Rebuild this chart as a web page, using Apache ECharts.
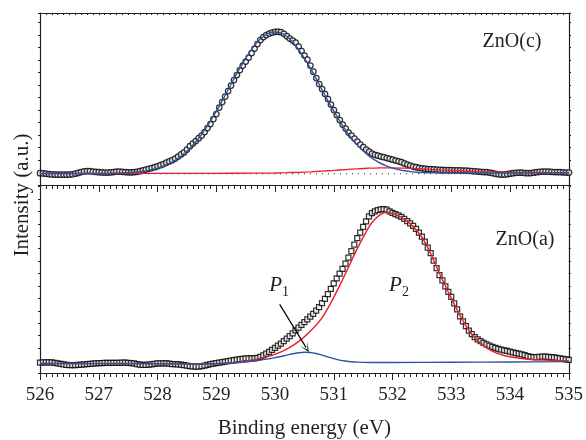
<!DOCTYPE html>
<html>
<head>
<meta charset="utf-8">
<script src="https://cdn.jsdelivr.net/npm/echarts@6.0.0/dist/echarts.min.js"></script>
<style>
  html, body { margin: 0; padding: 0; background: #fff; }
  #chart { width: 586px; height: 440px; }
</style>
</head>
<body>
<div id="chart"></div>
<script>
// O 1s XPS spectra of two ZnO films: measured points plus the fitted components.
// Measured spectra are sampled every 0.05 eV from 526 eV to 535 eV.
const energyStart = 526;
const energyStep = 0.05;

// ZnO(c): measured intensity (a.u.)
const topIntensity = [
  11.8, 11.6, 11.3, 10.9, 10.6, 10.4, 10.3, 10.3, 10.4, 10.3, 10.4, 10.7, 11.3, 12.1, 13.0, 13.6, 14.0, 13.9, 13.5, 13.1,
  12.8, 12.6, 12.5, 12.4, 12.6, 13.0, 13.3, 13.4, 13.2, 12.9, 12.7, 12.6, 12.8, 13.2, 13.8, 14.6, 15.4, 16.2, 17.0, 17.8,
  18.7, 19.8, 21.0, 22.3, 23.6, 24.8, 26.5, 28.5, 30.6, 32.6, 35.5, 38.8, 41.5, 44.0, 46.8, 49.5, 53.0, 57.0, 61.0, 66.0,
  71.0, 77.5, 83.0, 88.5, 94.0, 99.5, 105.0, 110.0, 115.0, 119.5, 123.5, 127.5, 132.0, 136.5, 141.0, 145.0, 148.0, 150.0, 151.5, 152.5,
  153.2, 153.3, 152.8, 151.2, 148.8, 146.5, 144.5, 142.3, 138.5, 134.0, 129.5, 125.5, 119.5, 113.3, 107.0, 101.0, 96.0, 91.0, 86.0, 80.5,
  75.0, 70.0, 65.0, 60.5, 56.5, 52.5, 49.5, 46.5, 43.5, 40.5, 38.0, 35.5, 33.3, 31.5, 30.2, 29.3, 28.5, 27.8, 27.0, 26.2,
  25.3, 24.5, 23.7, 22.8, 21.6, 20.5, 19.4, 18.5, 17.8, 17.2, 16.7, 16.3, 16.0, 15.8, 15.6, 15.4, 15.2, 15.1, 15.0, 14.9,
  14.8, 14.7, 14.7, 14.6, 14.5, 14.4, 14.2, 14.0, 13.7, 13.4, 13.2, 13.0, 12.8, 12.4, 11.8, 11.2, 10.7, 10.5, 10.5, 10.8,
  11.3, 11.8, 12.2, 12.4, 12.3, 12.0, 11.8, 11.9, 12.3, 12.8, 13.2, 13.4, 13.4, 13.3, 13.2, 13.0, 12.9, 12.8, 12.7, 12.5,
  12.4
];

// ZnO(a): measured intensity (a.u.)
const bottomIntensity = [
  10.5, 10.8, 10.8, 10.7, 10.6, 10.3, 9.8, 9.2, 8.6, 8.2, 8.0, 7.9, 8.0, 8.1, 8.3, 8.6, 8.9, 9.2, 9.5, 9.7,
  9.9, 10.0, 10.1, 10.1, 10.1, 10.2, 10.2, 10.3, 10.4, 10.4, 10.3, 10.0, 9.6, 9.0, 8.5, 8.2, 8.1, 8.3, 8.7, 9.2,
  9.6, 9.8, 9.8, 9.6, 9.3, 9.0, 8.8, 8.6, 8.3, 7.9, 7.4, 7.0, 6.6, 6.4, 6.4, 6.8, 7.4, 8.1, 8.8, 9.4,
  9.9, 10.4, 10.9, 11.4, 11.9, 12.4, 12.9, 13.4, 13.9, 14.3, 14.7, 14.8, 14.7, 14.8, 15.3, 16.3, 17.8, 19.5, 21.3, 23.2,
  25.3, 27.4, 29.6, 32.0, 34.5, 37.0, 39.8, 42.8, 45.7, 48.5, 51.2, 53.8, 56.6, 59.5, 62.8, 66.3, 70.2, 74.5, 79.3, 84.5,
  90.0, 95.2, 100.0, 104.8, 110.0, 116.0, 122.5, 129.0, 135.5, 141.0, 147.0, 152.5, 157.5, 160.8, 162.5, 163.8, 164.6, 164.8, 164.3, 162.5,
  161.0, 159.7, 158.5, 157.0, 155.0, 152.8, 150.5, 148.0, 145.0, 141.0, 137.0, 132.0, 126.0, 120.5, 113.0, 105.5, 98.5, 93.0, 87.0, 81.5,
  76.5, 70.0, 64.0, 57.0, 52.0, 47.0, 42.5, 39.0, 36.0, 33.8, 32.0, 30.3, 28.8, 27.5, 26.2, 25.2, 24.3, 23.5, 22.8, 22.2,
  21.5, 20.8, 20.1, 19.4, 18.7, 17.9, 17.0, 16.3, 15.9, 15.9, 16.2, 16.5, 16.5, 16.3, 16.0, 15.6, 15.2, 14.8, 14.3, 13.8,
  13.3
];

// ZnO(c) fitted components: [binding energy (eV), intensity]
const topFitMain = [
  [526.0, 11.5], [527.0, 11.5], [527.2, 11.7], [527.4, 12.1], [527.5, 12.3], [527.6, 12.7], [527.7, 13.3],
  [527.8, 14.1], [527.9, 15.3], [528.0, 16.8], [528.1, 18.8], [528.2, 21.4], [528.3, 24.7], [528.4, 28.8],
  [528.5, 33.8], [528.6, 39.8], [528.7, 46.7], [528.8, 54.8], [528.9, 63.9], [529.0, 73.8], [529.1, 84.2],
  [529.2, 95.1], [529.3, 106.2], [529.4, 116.8], [529.5, 126.7], [529.6, 135.6], [529.7, 142.9], [529.8, 148.5],
  [529.9, 151.9], [530.0, 153.0], [530.1, 151.9], [530.2, 148.5], [530.3, 142.9], [530.4, 135.6], [530.5, 126.7],
  [530.6, 116.8], [530.7, 106.2], [530.8, 95.1], [530.9, 84.2], [531.0, 73.8], [531.1, 63.9], [531.2, 54.9],
  [531.3, 46.8], [531.4, 39.9], [531.5, 33.9], [531.6, 28.9], [531.7, 24.8], [531.8, 21.5], [531.9, 18.9],
  [532.0, 16.9], [532.1, 15.4], [532.2, 14.2], [532.3, 13.4], [532.4, 12.8], [532.5, 12.4], [532.6, 12.2],
  [532.8, 12.0], [533.0, 11.9], [534.0, 12.0], [535.0, 12.2]
];
const topFitMinor = [
  [526.0, 11.4], [527.0, 11.5], [528.0, 11.6], [529.0, 11.7], [529.6, 11.8], [529.8, 11.9], [530.0, 12.0],
  [530.2, 12.3], [530.4, 12.7], [530.6, 13.2], [530.8, 13.9], [531.0, 14.6], [531.2, 15.4], [531.4, 16.2],
  [531.6, 16.8], [531.8, 17.2], [532.0, 17.2], [532.2, 16.9], [532.4, 16.4], [532.6, 15.8], [532.8, 15.1],
  [533.0, 14.5], [533.2, 14.0], [533.4, 13.5], [533.6, 13.2], [533.8, 12.9], [534.0, 12.7], [534.5, 12.5],
  [535.0, 12.3]
];
const topBaseline = 11.2;

// ZnO(a) fitted components: P1 (low-energy) and P2 (high-energy)
const bottomFitP1 = [
  [526.0, 9.5], [528.0, 9.3], [528.6, 9.0], [529.0, 9.3], [529.2, 9.8], [529.4, 10.6], [529.6, 11.8],
  [529.8, 13.4], [530.0, 15.5], [530.2, 18.0], [530.3, 19.3], [530.4, 20.3], [530.5, 20.8], [530.6, 20.6],
  [530.7, 19.6], [530.8, 18.0], [530.9, 16.2], [531.0, 14.5], [531.1, 13.0], [531.2, 12.0], [531.3, 11.3],
  [531.4, 10.9], [531.6, 10.6], [532.0, 10.6], [533.0, 10.8], [534.0, 11.1], [535.0, 11.4]
];
const bottomFitP2 = [
  [526.0, 9.5], [527.0, 9.5], [528.0, 9.4], [528.6, 9.1], [529.0, 9.3], [529.2, 10.0], [529.4, 11.2],
  [529.6, 12.9], [529.8, 15.4], [530.0, 18.8], [530.2, 24.0], [530.4, 31.5], [530.6, 42.0], [530.8, 55.5],
  [531.0, 76.0], [531.2, 100.0], [531.4, 125.0], [531.6, 147.0], [531.7, 154.5], [531.8, 159.5], [531.9, 161.5],
  [532.0, 160.5], [532.1, 158.0], [532.2, 154.5], [532.3, 150.0], [532.4, 144.0], [532.5, 136.5], [532.6, 126.0],
  [532.7, 113.5], [532.8, 100.0], [532.9, 87.5], [533.0, 75.5], [533.1, 63.5], [533.2, 52.5], [533.3, 43.0],
  [533.4, 35.5], [533.5, 29.8], [533.6, 25.5], [533.7, 22.0], [533.8, 19.5], [533.9, 17.6], [534.0, 16.3],
  [534.2, 14.6], [534.4, 13.6], [534.6, 13.0], [534.8, 12.6], [535.0, 12.3]
];

// Peak labels and the arrow pointing at the P1 component
const peakLabels = [
  { name: '1', coord: [530.07, 86] },
  { name: '2', coord: [532.11, 86] }
];
const arrowFrom = [530.08, 69];
const arrowTo = [530.53, 25.5];

const xTicks = { min: 526, max: 535, interval: 1 };

const FONT = '"Liberation Serif", "Times New Roman", serif';
const INK = '#231f20';
const BLUE = '#2f52a2';
const RED = '#ec1c24';

const toPoints = vals => vals.map((v, i) => [+(energyStart + i * energyStep).toFixed(2), v]);

const axisLine = { show: true, onZero: false, lineStyle: { color: INK, width: 1.2 } };

function xAxisFor(gridIndex, position, extra) {
  return Object.assign({
    type: 'value', gridIndex, position,
    min: xTicks.min, max: xTicks.max, interval: xTicks.interval,
    axisLine,
    axisTick: { show: true, inside: false, length: 7, lineStyle: { color: INK, width: 1 } },
    minorTick: { show: true, splitNumber: 10, length: 4, lineStyle: { color: INK, width: 1 } },
    axisLabel: { show: false },
    splitLine: { show: false },
    minorSplitLine: { show: false }
  }, extra || {});
}

function yAxisFor(gridIndex, position, max) {
  return {
    type: 'value', gridIndex, position,
    min: 0, max, interval: 12.5,
    axisLine,
    axisTick: { show: true, inside: false, length: 2, lineStyle: { color: INK, width: 1 } },
    axisLabel: { show: false },
    splitLine: { show: false }
  };
}

const markerStyle = { color: '#fff', borderColor: '#000', borderWidth: 1.25 };

const chart = echarts.init(document.getElementById('chart'), null, { renderer: 'canvas' });

chart.setOption({
  animation: false,
  backgroundColor: '#fff',
  grid: [
    { left: 40, right: 17, top: 13, height: 172 },
    { left: 40, right: 17, top: 185, height: 189 }
  ],
  xAxis: [
    xAxisFor(0, 'bottom'),
    xAxisFor(0, 'top', {
      axisTick: { show: true, inside: true, length: 2, lineStyle: { color: INK, width: 1 } },
      minorTick: { show: true, splitNumber: 10, length: 2, lineStyle: { color: INK, width: 1 } }
    }),
    xAxisFor(1, 'bottom', {
      axisLabel: { show: true, margin: 13, color: INK, fontFamily: FONT, fontSize: 19 },
      name: 'Binding energy (eV)',
      nameLocation: 'middle',
      nameGap: 45,
      nameTextStyle: { color: INK, fontFamily: FONT, fontSize: 21 }
    }),
    xAxisFor(1, 'top', { axisTick: { show: false }, minorTick: { show: false } })
  ],
  yAxis: [
    yAxisFor(0, 'left', 172),
    yAxisFor(0, 'right', 172),
    yAxisFor(1, 'left', 189),
    yAxisFor(1, 'right', 189)
  ],
  graphic: [
    {
      type: 'text', x: 22, y: 195, rotation: Math.PI / 2, silent: true,
      style: { text: 'Intensity (a.u.)', fill: INK, fontFamily: FONT, fontSize: 21, align: 'center', verticalAlign: 'middle' }
    },
    {
      type: 'text', x: 512, y: 42, silent: true,
      style: { text: 'ZnO(c)', fill: INK, fontFamily: FONT, fontSize: 20, align: 'center', verticalAlign: 'middle' }
    },
    {
      type: 'text', x: 525, y: 240, silent: true,
      style: { text: 'ZnO(a)', fill: INK, fontFamily: FONT, fontSize: 20, align: 'center', verticalAlign: 'middle' }
    }
  ],
  series: [
    {
      name: 'ZnO(c) data', type: 'scatter', xAxisIndex: 0, yAxisIndex: 0, silent: true,
      data: toPoints(topIntensity), symbol: 'circle', symbolSize: 5.5,
      itemStyle: markerStyle
    },
    {
      name: 'ZnO(c) baseline', type: 'line', xAxisIndex: 0, yAxisIndex: 0, silent: true,
      data: [[xTicks.min, topBaseline], [xTicks.max, topBaseline]], symbol: 'none',
      lineStyle: { color: INK, width: 1, type: [1, 5] }
    },
    {
      name: 'ZnO(c) minor', type: 'line', xAxisIndex: 0, yAxisIndex: 0, silent: true,
      data: topFitMinor, symbol: 'none', smooth: 0.3,
      lineStyle: { color: RED, width: 1.3 }
    },
    {
      name: 'ZnO(c) main', type: 'line', xAxisIndex: 0, yAxisIndex: 0, silent: true,
      data: topFitMain, symbol: 'none', smooth: 0.3,
      lineStyle: { color: BLUE, width: 1.4 }
    },
    {
      name: 'ZnO(a) data', type: 'scatter', xAxisIndex: 2, yAxisIndex: 2, silent: true,
      data: toPoints(bottomIntensity), symbol: 'rect', symbolSize: 5,
      itemStyle: markerStyle
    },
    {
      name: 'P2', type: 'line', xAxisIndex: 2, yAxisIndex: 2, silent: true,
      data: bottomFitP2, symbol: 'none', smooth: 0.3,
      lineStyle: { color: RED, width: 1.4 }
    },
    {
      name: 'P1', type: 'line', xAxisIndex: 2, yAxisIndex: 2, silent: true,
      data: bottomFitP1, symbol: 'none', smooth: 0.3,
      lineStyle: { color: BLUE, width: 1.4 },
      markLine: {
        silent: true,
        symbol: ['none', 'path://M0,10 L5,0 L10,10 L5,2.5 Z'],
        symbolSize: [9, 10],
        label: { show: false },
        lineStyle: { color: '#000', width: 1.2, type: 'solid' },
        emphasis: { disabled: true },
        data: [[{ coord: arrowFrom }, { coord: arrowTo }]]
      },
      markPoint: {
        silent: true,
        symbol: 'circle',
        symbolSize: 1,
        itemStyle: { color: 'rgba(0,0,0,0)' },
        label: {
          show: true,
          position: 'inside',
          formatter: p => '{p|P}{s|' + p.name + '}',
          rich: {
            p: { fontFamily: FONT, fontStyle: 'italic', fontSize: 21, color: INK, lineHeight: 24, verticalAlign: 'top' },
            s: { fontFamily: FONT, fontSize: 14, color: INK, lineHeight: 13, verticalAlign: 'bottom' }
          }
        },
        data: peakLabels
      }
    }
  ]
});
</script>
</body>
</html>
